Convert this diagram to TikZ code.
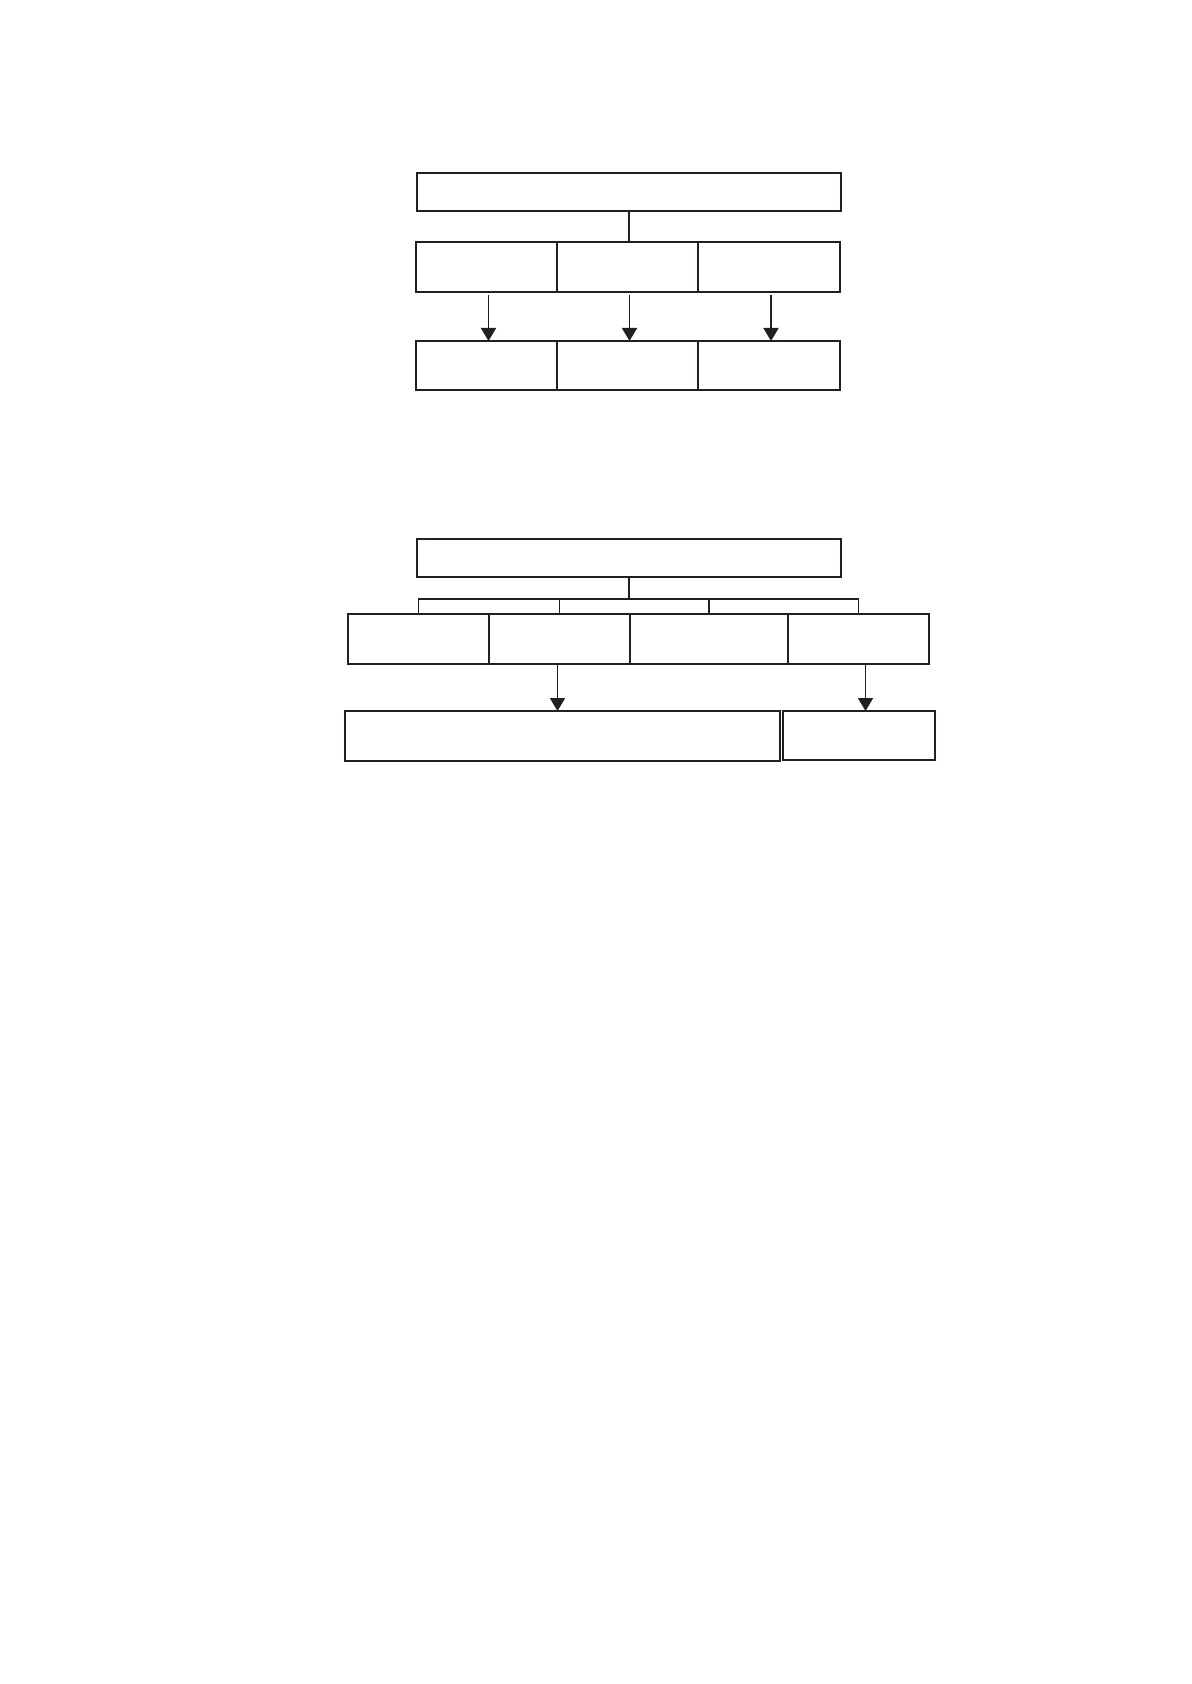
\documentclass[tikz,border=0pt]{standalone}
\usetikzlibrary{shapes,arrows.meta,positioning}
\definecolor{ink}{HTML}{231F20}
\tikzset{
  title box/.style={
    shape=rectangle,
    draw=ink,
    line width=0.6pt,
    inner sep=0pt,
    outer sep=0pt,
    minimum width=212pt,
    minimum height=19pt
  },
  stage box/.style={
    shape=rectangle,
    draw=ink,
    line width=0.9pt,
    inner sep=0pt,
    outer sep=0pt,
    minimum width=#1,
    minimum height=25pt
  },
  link/.style={
    draw=ink,
    line width=0.9pt
  },
  flow/.style={
    draw=ink,
    line width=0.9pt,
    -{Triangle[length=6.5pt,width=7.5pt]}
  }
}

\begin{document}
\begin{tikzpicture}[x=1pt,y=-1pt]
\useasboundingbox (0,0) rectangle (595.5,842);

% upper scheme
\node [title box] (top1) at (314.5,96) {};
\node [stage box=70.5pt] (a1) at (243.25,133.5) {};
\node [stage box=70.5pt, right=0pt of a1] (a2) {};
\node [stage box=71pt, right=0pt of a2] (a3) {};
\node [stage box=70.5pt, minimum height=24.5pt] (b1) at (243.25,182.75) {};
\node [stage box=70.5pt, minimum height=24.5pt, right=0pt of b1] (b2) {};
\node [stage box=71pt, minimum height=24.5pt, right=0pt of b2] (b3) {};

\draw [link] (top1.south) -- (top1.south |- a2.north);
\foreach \i in {1,2,3}
  \draw [flow] ([xshift=1pt,yshift=-1.5pt]a\i.south) -- ([xshift=1pt]b\i.north);

% lower scheme
\node [title box] (top2) at (314.5,279) {};
\coordinate (bus) at (0,299.5);
\node [stage box=70.5pt] (d1) at (209.25,319.5) {};
\node [stage box=70.5pt, right=0pt of d1] (d2) {};
\node [stage box=79pt, right=0pt of d2] (d3) {};
\node [stage box=70.5pt, right=0pt of d3] (d4) {};
\node [stage box=217.5pt] (e1) at (281.25,368) {};
\node [stage box=76pt, minimum height=24.5pt, line width=0.6pt] (e2) at (429.5,367.75) {};

\draw [link] (top2.south) -- (top2.south |- bus);
\draw [link] (d1.north) -- (d1.north |- bus) -- (d4.north |- bus) -- (d4.north);
\draw [link] (d2.north) -- (d2.north |- bus);
\draw [link] (d3.north) -- (d3.north |- bus);
\draw [flow] ([xshift=-1pt]d2.south) -- ([xshift=-1pt]d2.south |- e1.north);
\draw [flow] ([xshift=3.5pt]d4.south) -- ([xshift=3.5pt]d4.south |- e2.north);

\end{tikzpicture}
\end{document}
